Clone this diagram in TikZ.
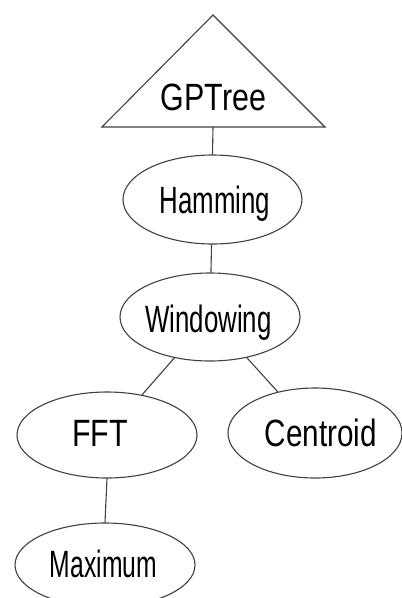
\documentclass[tikz,border=0pt]{standalone}
\usepackage{fontspec}
\setmainfont{Liberation Sans}
\usetikzlibrary{shapes.geometric}
\tikzset{
  shapeline/.style={draw=black!75, line width=1.1pt},
  oval/.style={shapeline, ellipse, inner sep=0pt},
  lbl/.style={anchor=base, inner sep=0pt, font=\fontsize{38}{40}\selectfont},
  edge/.style={draw=black!75, line width=1.1pt}
}
\begin{document}
\begin{tikzpicture}[x=1pt, y=-1pt]
\useasboundingbox (0,0) rectangle (402,598);
% triangle
\coordinate (apex) at (213,15);
\coordinate (bl) at (102,127);
\coordinate (br) at (325,127);
\coordinate (tb) at (213,127);
\draw[shapeline, line join=miter] (apex) -- (br) -- (bl) -- cycle;
\node[lbl] (tgp) at (213.5,110) {\scalebox{0.80}[1]{GPTree}};
% ellipses
\node[oval, minimum width=179pt, minimum height=89pt] (ham) at (212.5,199.5) {};
\node[oval, minimum width=180pt, minimum height=88pt] (win) at (210,317) {};
\node[oval, minimum width=180pt, minimum height=86pt] (fft) at (107,435) {};
\node[oval, minimum width=174pt, minimum height=90pt] (cen) at (315,433) {};
\node[oval, minimum width=180pt, minimum height=84pt] (max) at (105,565) {};
% labels
\node[lbl] (tham) at (215,213) {\scalebox{0.68}[1]{Hamming}};
\node[lbl] (twin) at (208.5,332) {\scalebox{0.68}[1]{Windowing}};
\node[lbl] (tfft) at (100,446) {\scalebox{0.80}[1]{FFT}};
\node[lbl] (tcen) at (321,446) {\scalebox{0.78}[1]{Centroid}};
\node[lbl] (tmax) at (103.5,577) {\scalebox{0.65}[1]{Maximum}};
% connectors
\draw[edge] (tb) -- (ham.north);
\draw[edge] (ham) -- (win);
\draw[edge] (win) -- (fft);
\draw[edge] (win) -- (cen);
\draw[edge] (fft.south) -- (max.north);
\end{tikzpicture}
\end{document}
